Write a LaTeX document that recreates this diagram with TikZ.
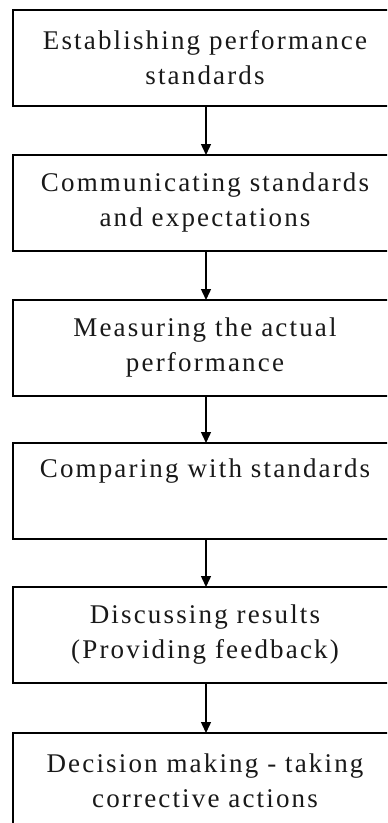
\documentclass[tikz,border=0pt]{standalone}
\usepackage{fontspec}
\setmainfont{Liberation Serif}[LetterSpace=8]
\usetikzlibrary{arrows.meta}
\begin{document}
\begin{tikzpicture}[x=1bp,y=-1bp,
  stepbox/.style={draw=black, line width=1.6bp, fill=white, anchor=north west,
    minimum width=384bp, minimum height=96bp, inner sep=0pt, outer sep=0pt,
    align=center, font=\fontsize{27bp}{35bp}\selectfont, text=black!90,
    execute at begin node={\rule{0pt}{31bp}}},
  conn/.style={line width=1.4bp, -{Triangle[length=11bp,width=10bp]}}]
\useasboundingbox (0,0) rectangle (387,823);
\clip (0,0) rectangle (387,823);
\node[stepbox] (b1) at (13,10) {Establishing performance\\standards};
\node[stepbox] (b2) at (13,155) {Communicating standards\\and expectations};
\node[stepbox] (b3) at (13,300) {Measuring the actual\\performance};
\node[stepbox] (b4) at (13,443) {Comparing with standards\\\strut};
\node[stepbox] (b5) at (13,587) {Discussing results\\(Providing feedback)};
\node[stepbox] (b6) at (13,733) {Decision making - taking\\corrective actions};
\draw[conn] (b1.south) ++(1,0) coordinate (s1) -- (s1 |- b2.north);
\draw[conn] (b2.south) ++(1,0) coordinate (s2) -- (s2 |- b3.north);
\draw[conn] (b3.south) ++(1,0) coordinate (s3) -- (s3 |- b4.north);
\draw[conn] (b4.south) ++(1,0) coordinate (s4) -- (s4 |- b5.north);
\draw[conn] (b5.south) ++(1,0) coordinate (s5) -- (s5 |- b6.north);
\end{tikzpicture}
\end{document}
